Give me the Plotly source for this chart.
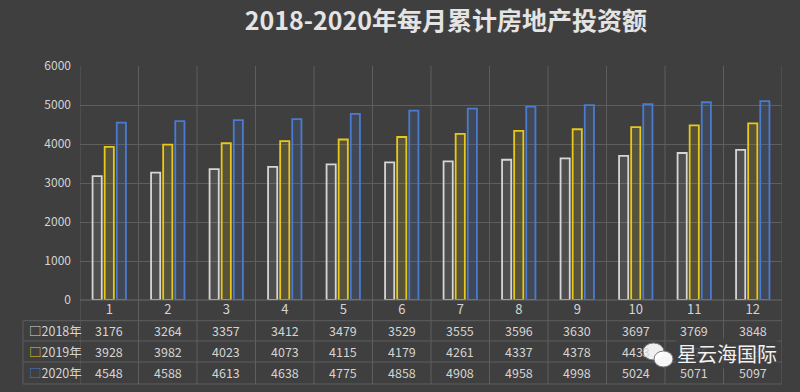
import plotly.graph_objects as go

months = [str(i) for i in range(1, 13)]
series_names = ["2018年", "2019年", "2020年"]
v2018 = [3176, 3264, 3357, 3412, 3479, 3529, 3555, 3596, 3630, 3697, 3769, 3848]
v2019 = [3928, 3982, 4023, 4073, 4115, 4179, 4261, 4337, 4378, 4433, 4476, 4530]
v2020 = [4548, 4588, 4613, 4638, 4775, 4858, 4908, 4958, 4998, 5024, 5071, 5097]
y_ticks = [0, 1000, 2000, 3000, 4000, 5000, 6000]
title_text = "2018-2020年每月累计房地产投资额"
watermark = "星云海国际"

values = [v2018, v2019, v2020]
line_colors = ["#d6d6d6", "#e8c81a", "#4a7bd0"]
fill_colors = ["rgba(214,214,214,0.10)", "rgba(232,200,26,0.14)", "rgba(74,123,208,0.16)"]

BG = "#3f3f3f"
GRID = "#5e5e5e"
TXT = "#d4d4d4"
FONT = "Noto Sans CJK SC"

fig = go.Figure()
for name, vals, lc, fc in zip(series_names, values, line_colors, fill_colors):
    fig.add_trace(go.Bar(
        x=months, y=vals, name=name,
        marker=dict(color=fc, line=dict(color=lc, width=1.8)),
        hoverinfo="x+y+name",
    ))

# table geometry (paper units relative to plot area)
row_lines = [0, -0.0885, -0.175, -0.265, -0.359]
row_centers = [-0.130, -0.221, -0.311]
left_x = -0.0812

shapes = []
for i in range(len(months) + 1):
    shapes.append(dict(type="line", xref="x", yref="paper", x0=i - 0.5, x1=i - 0.5,
                       y0=1, y1=row_lines[-1], line=dict(color=GRID, width=1), layer="below"))
for j, yl in enumerate(row_lines):
    shapes.append(dict(type="line", xref="paper", yref="paper",
                       x0=(0 if j == 0 else left_x), x1=1, y0=yl, y1=yl,
                       line=dict(color="#6a6a6a" if j == 0 else GRID, width=1)))
shapes.append(dict(type="line", xref="paper", yref="paper", x0=left_x, x1=left_x,
                   y0=row_lines[1], y1=row_lines[-1], line=dict(color=GRID, width=1)))
# watermark icon (two bubbles)
shapes.append(dict(type="circle", xref="paper", yref="paper",
                   x0=(643 - 80) / 702, x1=(664 - 80) / 702, y0=(300 - 360) / 234, y1=(300 - 343) / 234,
                   fillcolor="rgba(255,255,255,0.92)", line=dict(color="#777", width=1)))
shapes.append(dict(type="circle", xref="paper", yref="paper",
                   x0=(654 - 80) / 702, x1=(673 - 80) / 702, y0=(300 - 367) / 234, y1=(300 - 351) / 234,
                   fillcolor="rgba(255,255,255,0.96)", line=dict(color="#777", width=1)))

annotations = []
for r, (name, vals, lc) in enumerate(zip(series_names, values, line_colors)):
    annotations.append(dict(
        xref="paper", yref="paper", x=-0.0755, y=row_centers[r], xanchor="left", yanchor="middle",
        text=f"<span style='color:{lc}'>□</span>{name}", showarrow=False,
        font=dict(family=FONT, size=12.5, color=TXT)))
    for idx, v in enumerate(vals):
        annotations.append(dict(
            xref="x", yref="paper", x=idx, y=row_centers[r], xanchor="center", yanchor="middle",
            text=str(v), showarrow=False, font=dict(family=FONT, size=12.5, color=TXT)))

annotations.append(dict(
    xref="paper", yref="paper", x=(676 - 80) / 702, y=(300 - 353) / 234, xanchor="left", yanchor="middle",
    text=watermark, showarrow=False, bgcolor="rgba(63,63,63,0.85)", borderpad=0,
    font=dict(family=FONT, size=20, color="#f2f2f2")))

fig.update_layout(
    width=800, height=392,
    margin=dict(l=80, r=18, t=66, b=92),
    paper_bgcolor=BG, plot_bgcolor=BG,
    showlegend=False,
    barmode="group", bargap=0.38, bargroupgap=0.24,
    title=dict(text=f"<b>{title_text}</b>", x=446 / 800, xanchor="center", y=1 - 21 / 392, yanchor="middle",
               font=dict(family=FONT, size=25, color="#e4e4e4")),
    xaxis=dict(type="category", range=[-0.5, len(months) - 0.5], showgrid=False, zeroline=False,
               showline=False, ticks="", tickfont=dict(family=FONT, size=13, color=TXT)),
    yaxis=dict(range=[0, 6000], tickvals=y_ticks, showgrid=True, gridcolor=GRID, gridwidth=1,
               zeroline=False, showline=False, ticks="", ticklabelstandoff=8,
               tickfont=dict(family=FONT, size=12, color=TXT)),
    shapes=shapes, annotations=annotations,
    font=dict(family=FONT, color=TXT),
)

fig.write_html("out.html", config={"displayModeBar": False},
               post_script="document.body.style.margin='0';document.body.style.padding='0';"
                           "document.body.style.background='#3f3f3f';")
